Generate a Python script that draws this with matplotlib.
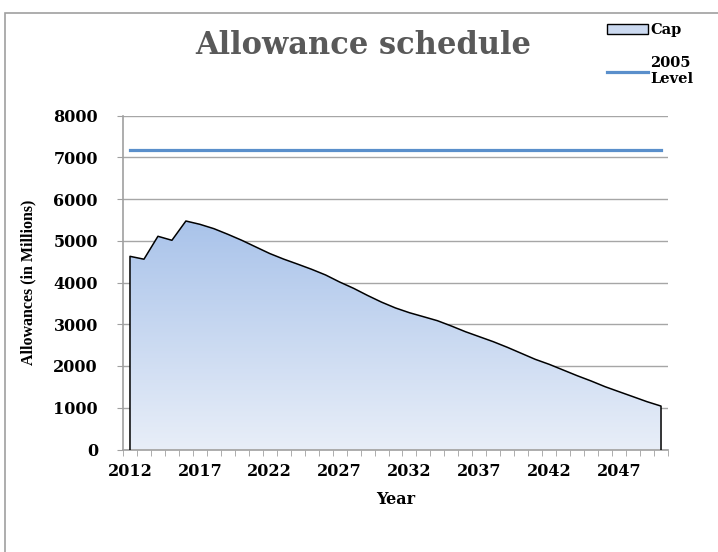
import matplotlib
matplotlib.use('Agg')
import matplotlib.pyplot as plt
import numpy as np
from matplotlib.colors import LinearSegmentedColormap
from matplotlib.patches import Rectangle, Patch
from matplotlib.lines import Line2D

years = list(range(2012, 2051))
cap = [4627, 4558, 5107, 5011, 5473, 5394, 5290, 5155, 5011, 4852,
       4694, 4560, 4440, 4316, 4180, 4012, 3861, 3690, 3530, 3390,
       3276, 3181, 3085, 2958, 2822, 2702, 2582, 2448, 2304, 2160,
       2040, 1904, 1768, 1641, 1504, 1384, 1265, 1145, 1040]
level_2005 = 7180
yticks = [0, 1000, 2000, 3000, 4000, 5000, 6000, 7000, 8000]
xlabel_years = [2012, 2017, 2022, 2027, 2032, 2037, 2042, 2047]

fig = plt.figure(figsize=(7.18, 5.52), dpi=100)
# outer chart border (right and bottom edges fall outside the image)
fig.patches.append(Rectangle((5 / 718, -0.1), 1.1, 1.1 - 13 / 552,
                             transform=fig.transFigure, fill=False,
                             edgecolor='#a0a0a0', linewidth=1.2))

ax = fig.add_axes([123 / 718, 1 - 449.5 / 552, 545 / 718, 334 / 552])
x = np.arange(len(years))

# gradient filled area
poly_x = np.concatenate([[x[0]], x, [x[-1]]])
poly_y = np.concatenate([[0], cap, [0]])
fill = ax.fill(poly_x, poly_y, facecolor='none', edgecolor='none')[0]
cmap = LinearSegmentedColormap.from_list('cap', ['#e8eef8', '#a9c3ea'])
grad = np.linspace(0, 1, 256).reshape(-1, 1)
img = ax.imshow(grad, extent=(x[0], x[-1], 0, max(cap)), origin='lower',
                aspect='auto', cmap=cmap, zorder=2)
img.set_clip_path(fill)
ax.plot(poly_x, poly_y, color='black', linewidth=1.1, zorder=3)

ax.plot(x, [level_2005] * len(x), color='#5a8fcb', linewidth=2.3, zorder=3)

ax.set_xlim(-0.5, len(years) - 0.5)
ax.set_ylim(0, 8000)
ax.set_yticks(yticks)
ax.set_yticklabels([str(v) for v in yticks])
ax.yaxis.grid(True, color='#a6a6a6', linewidth=1)
ax.set_axisbelow(True)

ax.set_xticks([years.index(y) for y in xlabel_years])
ax.set_xticklabels([str(y) for y in xlabel_years])
ax.set_xticks(np.arange(-0.5, len(years)), minor=True)
ax.tick_params(axis='x', which='major', length=0, pad=10)
ax.tick_params(axis='x', which='minor', length=4, color='#a0a0a0', direction='out')
ax.tick_params(axis='y', length=4, color='#a0a0a0', pad=14)

for s in ['top', 'right']:
    ax.spines[s].set_visible(False)
for s in ['left', 'bottom']:
    ax.spines[s].set_color('#a0a0a0')
    ax.spines[s].set_linewidth(1.2)

for lab in ax.get_xticklabels() + ax.get_yticklabels():
    lab.set_fontfamily('DejaVu Serif')
    lab.set_fontweight('bold')
    lab.set_fontsize(11.5)

ax.set_xlabel('Year', fontfamily='DejaVu Serif', fontweight='bold', fontsize=11.5, labelpad=8)
ax.set_ylabel('Allowances (in Millions)', fontfamily='Liberation Serif', fontweight='bold',
              fontsize=11.5, labelpad=12)

fig.text(363 / 718, 1 - 45 / 552, 'Allowance schedule', ha='center', va='center',
         fontfamily='DejaVu Serif', fontweight='bold', fontsize=22, color='#595959')

handles = [Patch(facecolor='#cbd9f0', edgecolor='black', linewidth=1),
           Line2D([], [], color='#5a8fcb', linewidth=2.3)]
fig.legend(handles, ['Cap', '2005\nLevel'], loc='upper left',
           bbox_to_anchor=(594 / 718, 1 - 10 / 552), frameon=False,
           handlelength=2.8, handleheight=0.7, handletextpad=0.15, labelspacing=1.3,
           prop={'family': 'DejaVu Serif', 'weight': 'bold', 'size': 10.5})

fig.savefig('out.png', dpi=100)
